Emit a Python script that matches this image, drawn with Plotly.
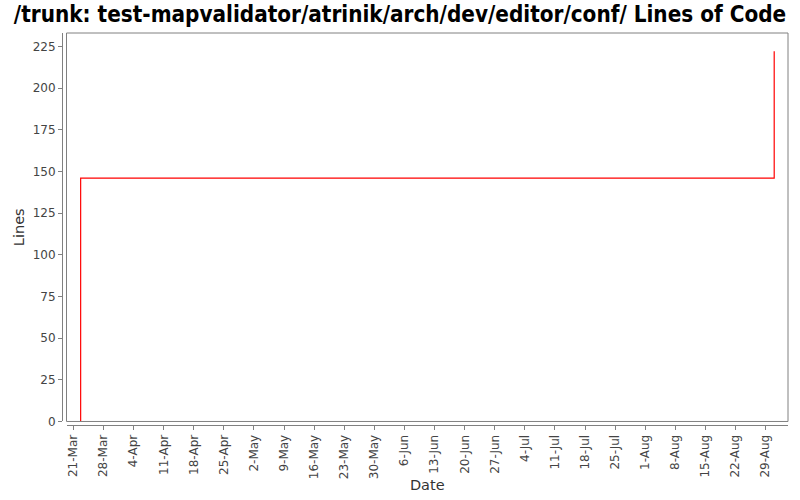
import plotly.graph_objects as go
from datetime import datetime, timedelta

# Data
dates = ["2010-03-22 17:00", "2010-03-22 17:00", "2010-08-31 00:00"]
lines = [0, 146, 222]

tick_start = datetime(2010, 3, 21)
tick_dates = [tick_start + timedelta(days=7 * i) for i in range(24)]
tick_labels = [f"{d.day}-{d.strftime('%b')}" for d in tick_dates]

fig = go.Figure()
fig.add_trace(go.Scatter(
    x=dates, y=lines, mode="lines", line_shape="hv",
    line=dict(color="#ff0000", width=1.2), hoverinfo="skip", showlegend=False,
))

axis_font = dict(family="DejaVu Sans", size=12, color="#444444")
title_font = dict(family="DejaVu Sans", size=14.5, color="#333333")
fig.update_layout(
    width=800, height=500,
    paper_bgcolor="white", plot_bgcolor="white",
    margin=dict(l=62, r=12, t=33, b=75, autoexpand=False),
    title=dict(
        text="/trunk: test-mapvalidator/atrinik/arch/dev/editor/conf/ Lines of Code",
        x=0.5, xanchor="center", xref="container", y=0.972, yanchor="middle", automargin=False,
        font=dict(family="DejaVu Sans Condensed, DejaVu Sans", size=22.3, color="black", weight="bold"),
    ),
    xaxis=dict(
        type="date", domain=[0.0062, 1], anchor="free", position=0, automargin=False,
        range=["2010-03-19 10:00", "2010-09-03 05:00"],
        tickmode="array", tickvals=tick_dates, ticktext=tick_labels,
        tickangle=-90, tickfont=axis_font,
        ticks="outside", ticklen=4, tickcolor="#808080",
        showline=True, linecolor="#808080", linewidth=1,
        showgrid=False, zeroline=False,
        title=dict(text="Date", font=title_font, standoff=1),
    ),
    yaxis=dict(
        domain=[0.009, 1], anchor="free", position=0, automargin=False,
        range=[0, 233],
        tickvals=[0, 25, 50, 75, 100, 125, 150, 175, 200, 225],
        tickfont=axis_font,
        ticks="outside", ticklen=4, tickcolor="#808080",
        showline=True, linecolor="#808080", linewidth=1,
        showgrid=False, zeroline=False,
        title=dict(text="Lines", font=title_font, standoff=3),
    ),
)
fig.add_shape(type="rect", xref="x domain", yref="y domain", x0=0, x1=1, y0=0, y1=1,
              line=dict(color="#808080", width=1), layer="above")

fig.write_html("out.html", config={"displayModeBar": False},
               post_script="document.body.style.margin='0';")
